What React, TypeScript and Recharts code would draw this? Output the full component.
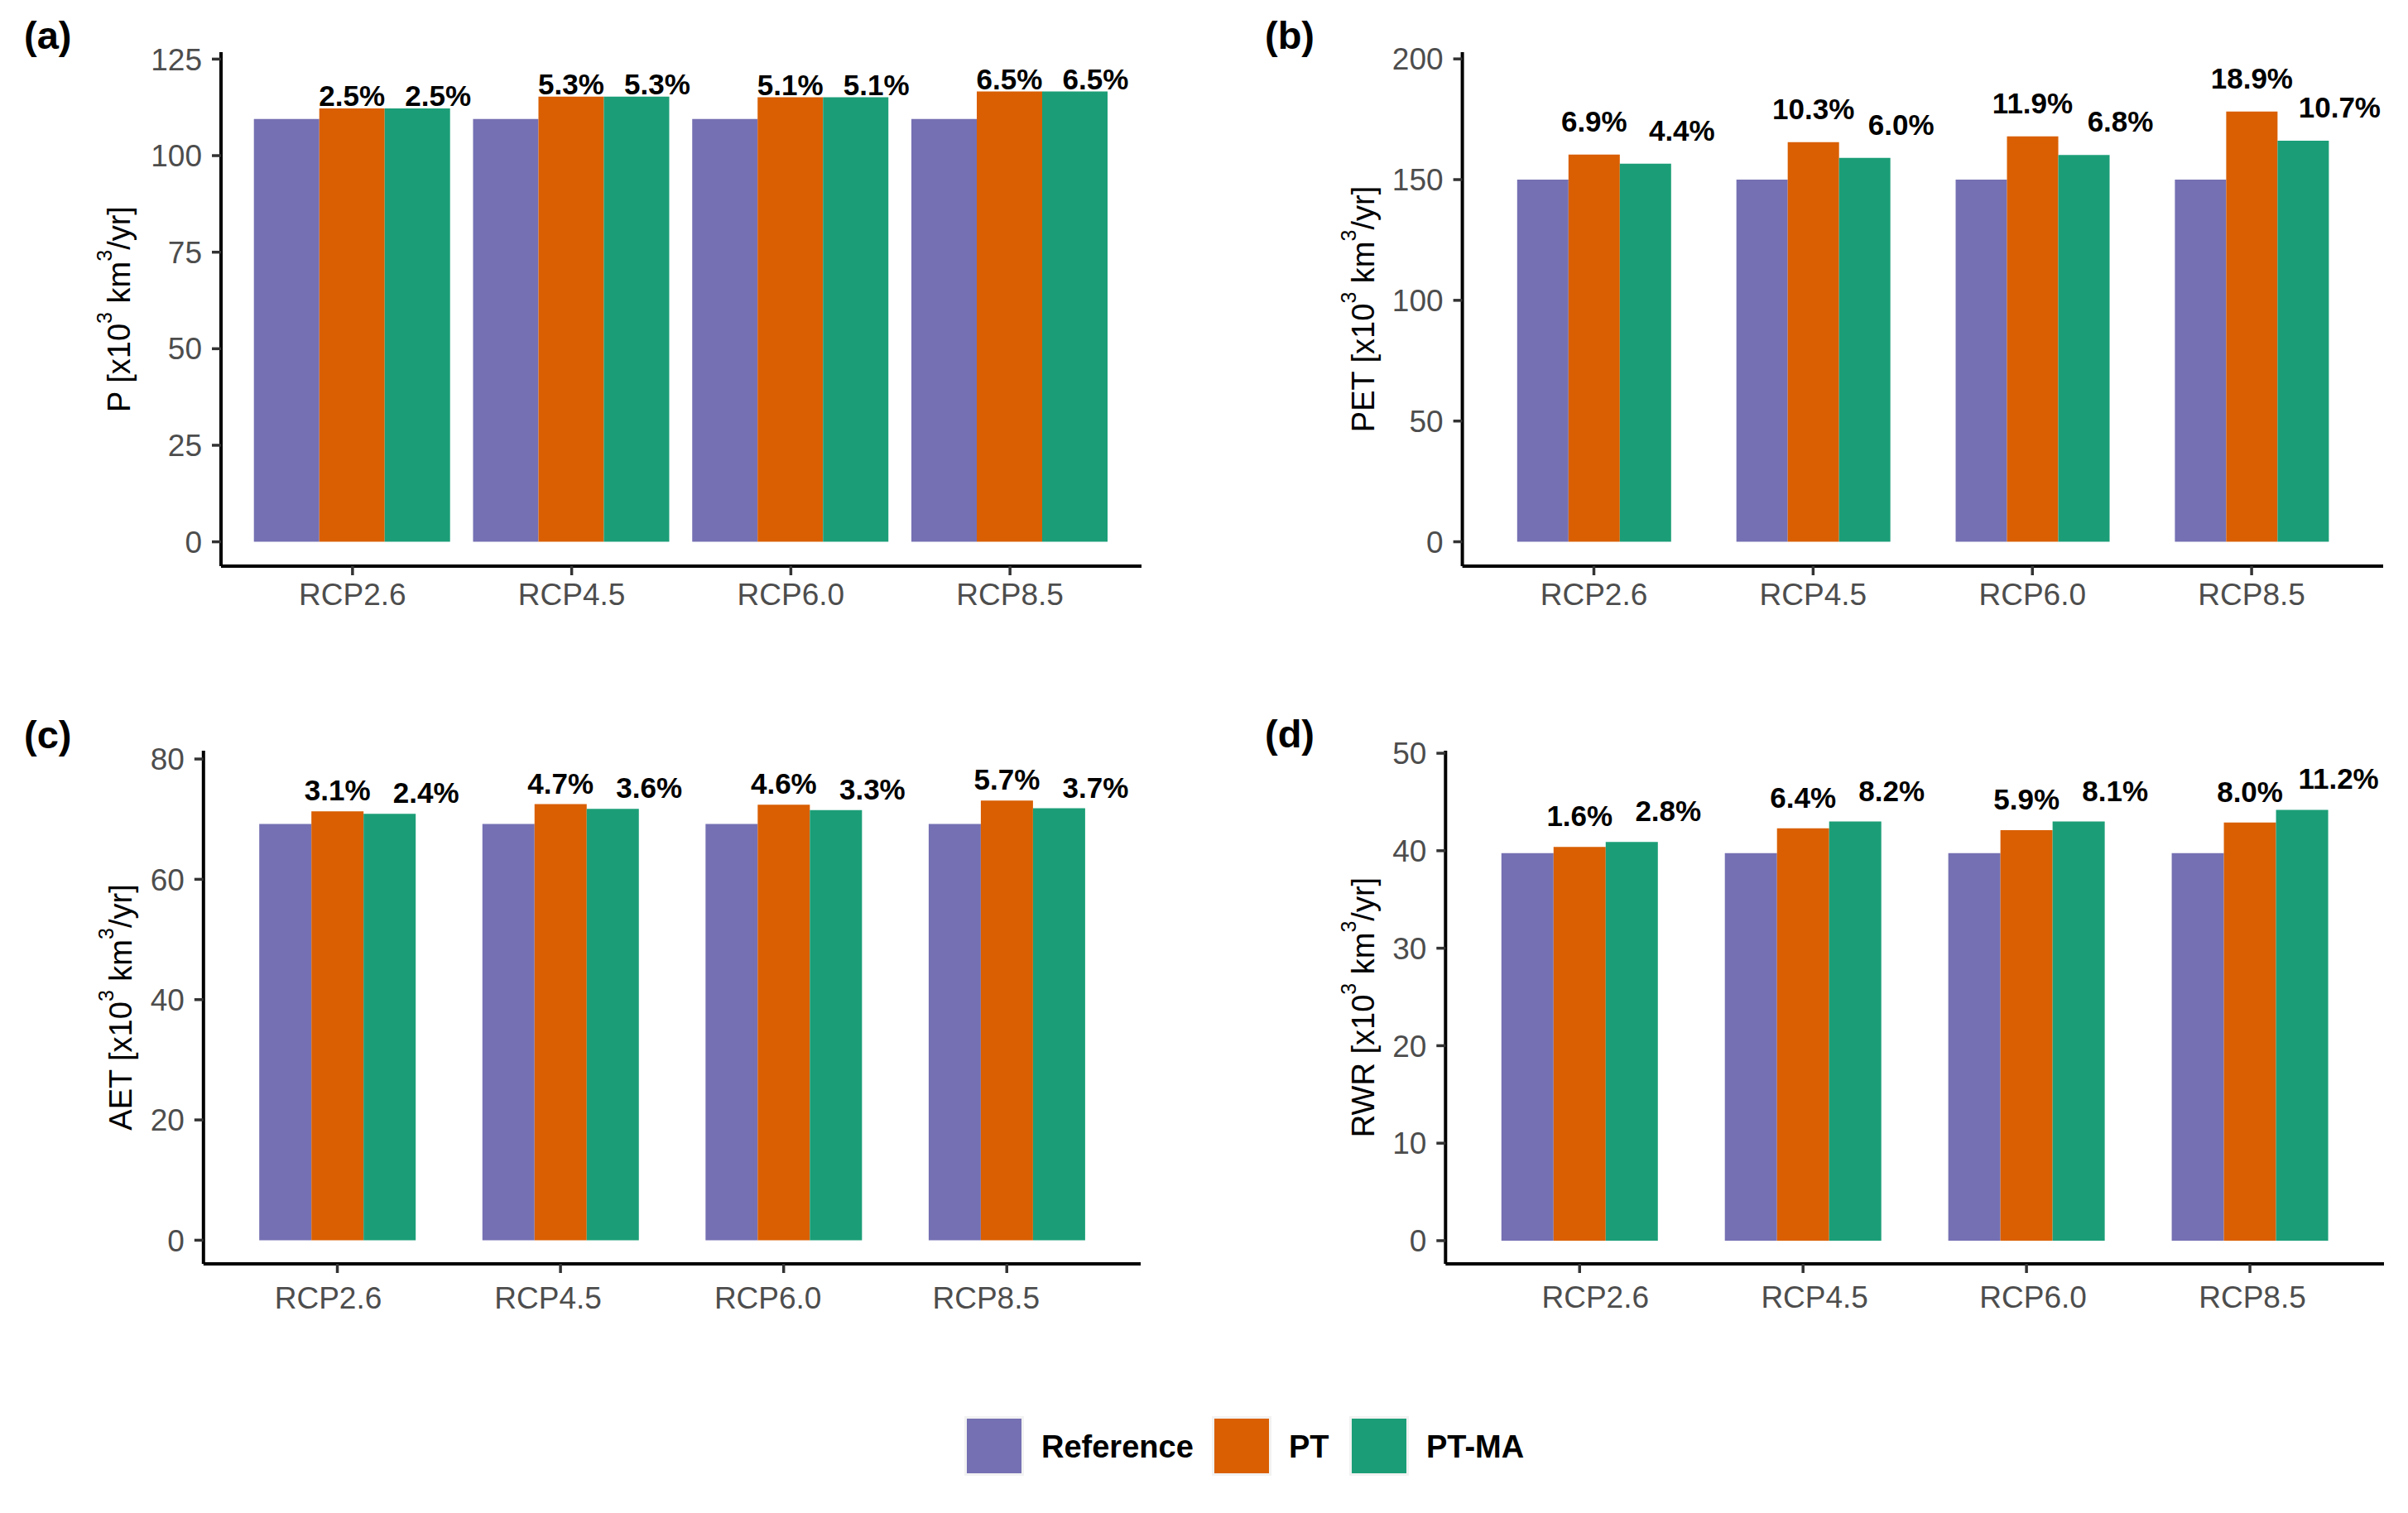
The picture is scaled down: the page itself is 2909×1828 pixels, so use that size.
import React from "react";
import { BarChart, Bar, XAxis, YAxis, LabelList } from "recharts";

// ---------- data ----------
const categories = ["RCP2.6", "RCP4.5", "RCP6.0", "RCP8.5"];
const seriesNames = ["Reference", "PT", "PT-MA"];
const seriesColors = ["#7570B3", "#D95F02", "#1B9E77"];

// (a) P
const pReference = [109.5, 109.5, 109.5, 109.5];
const pPT = [112.2, 115.3, 115.1, 116.6];
const pPTMA = [112.2, 115.3, 115.1, 116.6];
const pPTChange = [2.5, 5.3, 5.1, 6.5];
const pPTMAChange = [2.5, 5.3, 5.1, 6.5];
const pTicks = [0, 25, 50, 75, 100, 125];

// (b) PET
const petReference = [150.0, 150.0, 150.0, 150.0];
const petPT = [160.4, 165.5, 167.9, 178.2];
const petPTMA = [156.6, 159.0, 160.2, 166.1];
const petPTChange = [6.9, 10.3, 11.9, 18.9];
const petPTMAChange = [4.4, 6.0, 6.8, 10.7];
const petTicks = [0, 50, 100, 150, 200];

// (c) AET
const aetReference = [69.2, 69.2, 69.2, 69.2];
const aetPT = [71.3, 72.5, 72.4, 73.1];
const aetPTMA = [70.9, 71.7, 71.5, 71.8];
const aetPTChange = [3.1, 4.7, 4.6, 5.7];
const aetPTMAChange = [2.4, 3.6, 3.3, 3.7];
const aetTicks = [0, 20, 40, 60, 80];

// (d) RWR
const rwrReference = [39.75, 39.75, 39.75, 39.75];
const rwrPT = [40.4, 42.3, 42.1, 42.9];
const rwrPTMA = [40.9, 43.0, 43.0, 44.2];
const rwrPTChange = [1.6, 6.4, 5.9, 8.0];
const rwrPTMAChange = [2.8, 8.2, 8.1, 11.2];
const rwrTicks = [0, 10, 20, 30, 40, 50];

const FONT = "'Liberation Sans', Arial, Helvetica, sans-serif";

function buildData(refv: number[], pt: number[], ptma: number[], ptPct: number[], ptmaPct: number[]) {
  return categories.map((cat, i) => ({
    cat,
    baseline: refv[i],
    pt: pt[i],
    ptma: ptma[i],
    ptPct: ptPct[i],
    ptmaPct: ptmaPct[i],
  }));
}

type PanelCfg = {
  letter: string;
  varName: string;
  data: any[];
  ticks: number[];
  domain: [number, number];
  left: number;
  top: number;
  width: number;
  height: number;
  mTop: number;
  mRight: number;
  yW: number;
  xH: number;
  gap: string;
  labelOffset: number;
  maDx: number;
  xTickMargin: number;
  xTickShift: number[];
  titleX: number;
  titleY: number;
};

const plotWidthA = 1379 - 267;
const plotWidthB = 2879 - 1766.6;
const plotWidthC = 1378 - 245.8;
const plotWidthD = 2880 - 1746.3;

const panels: PanelCfg[] = [
  {
    letter: "(a)", varName: "P",
    data: buildData(pReference, pPT, pPTMA, pPTChange, pPTMAChange),
    ticks: pTicks, domain: [-6.3, 126.8],
    left: 0, top: 0, width: 1454, height: 800, mTop: 63, mRight: 75, yW: 267, xH: 116,
    gap: "5%", labelOffset: 3, maDx: 25, xTickMargin: 10, xTickShift: [0, 0, 0, 0],
    titleX: 157, titleY: 373.5,
  },
  {
    letter: "(b)", varName: "PET",
    data: buildData(petReference, petPT, petPTMA, petPTChange, petPTMAChange),
    ticks: petTicks, domain: [-10.1, 202.8],
    left: 1454, top: 0, width: 1455, height: 800, mTop: 63, mRight: 30, yW: 312.6, xH: 116,
    gap: "15%", labelOffset: 28, maDx: 44, xTickMargin: 10, xTickShift: [0, 0, 0, 0],
    titleX: 206, titleY: 373.5,
  },
  {
    letter: "(c)", varName: "AET",
    data: buildData(aetReference, aetPT, aetPTMA, aetPTChange, aetPTMAChange),
    ticks: aetTicks, domain: [-3.93, 81.38],
    left: 0, top: 820, width: 1454, height: 800, mTop: 87, mRight: 76, yW: 245.8, xH: 93,
    gap: "15%", labelOffset: 13, maDx: 44, xTickMargin: 17, xTickShift: [-11, -15, -19, -25],
    titleX: 159, titleY: 397,
  },
  {
    letter: "(d)", varName: "RWR",
    data: buildData(rwrReference, rwrPT, rwrPTMA, rwrPTChange, rwrPTMAChange),
    ticks: rwrTicks, domain: [-2.38, 50.26],
    left: 1454, top: 820, width: 1455, height: 800, mTop: 87, mRight: 29, yW: 292.3, xH: 93,
    gap: "15%", labelOffset: 25, maDx: 44, xTickMargin: 16, xTickShift: [19, 14, 8, 3],
    titleX: 206, titleY: 397,
  },
];
const plotWidths = [plotWidthA, plotWidthB, plotWidthC, plotWidthD];

function makePctLabel(offset: number, dx: number) {
  return (props: any) => {
    const x = Number(props.x);
    const y = Number(props.y);
    const w = Number(props.width);
    const v = Number(props.value);
    if (!isFinite(x) || !isFinite(y)) return null;
    return (
      <text
        x={x + w / 2 + dx}
        y={y - offset}
        textAnchor="middle"
        fontFamily={FONT}
        fontWeight="bold"
        fontSize={35}
        fill="#000000"
      >
        {v.toFixed(1) + "%"}
      </text>
    );
  };
}

function makeXTick(shifts: number[]) {
  return (props: any) => {
    const { x, y, payload } = props;
    const idx = payload && typeof payload.index === "number" ? payload.index : props.index;
    const dx = shifts[idx] || 0;
    return (
      <text
        x={Number(x) + dx}
        y={Number(y)}
        dy="0.71em"
        textAnchor="middle"
        fill="#4D4D4D"
        fontSize={37}
        fontFamily={FONT}
      >
        {payload.value}
      </text>
    );
  };
}

function makeTitle(varName: string, x: number, y: number) {
  return () => (
    <text
      x={x}
      y={y}
      transform={`rotate(-90 ${x} ${y})`}
      textAnchor="middle"
      fontFamily={FONT}
      fontSize={38}
      fill="#000000"
    >
      <tspan>{varName + " [x10"}</tspan>
      <tspan dy={-22} fontSize={25}>3</tspan>
      <tspan dy={22} fontSize={38}>{" km"}</tspan>
      <tspan dy={-22} fontSize={25}>3</tspan>
      <tspan dy={22} fontSize={38}>{"/yr]"}</tspan>
    </text>
  );
}

function Panel({ cfg, plotWidth }: { cfg: PanelCfg; plotWidth: number }) {
  const pad = plotWidth / 42;
  return (
    <div style={{ position: "absolute", left: cfg.left, top: cfg.top, width: cfg.width, height: cfg.height }}>
      <BarChart
        width={cfg.width}
        height={cfg.height}
        data={cfg.data}
        margin={{ top: cfg.mTop, right: cfg.mRight, bottom: 0, left: 0 }}
        barGap={0}
        barCategoryGap={cfg.gap}
      >
        <XAxis
          dataKey="cat"
          type="category"
          height={cfg.xH}
          padding={{ left: pad, right: pad }}
          interval={0}
          axisLine={{ stroke: "#000000", strokeWidth: 4 }}
          tickLine={{ stroke: "#333333", strokeWidth: 3.5 }}
          tickSize={11}
          tickMargin={cfg.xTickMargin}
          tick={makeXTick(cfg.xTickShift)}
        />
        <YAxis
          type="number"
          width={cfg.yW}
          domain={cfg.domain}
          allowDataOverflow
          ticks={cfg.ticks}
          interval={0}
          axisLine={{ stroke: "#000000", strokeWidth: 4 }}
          tickLine={{ stroke: "#333333", strokeWidth: 3.5 }}
          tickSize={11}
          tickMargin={12}
          tick={{ fill: "#4D4D4D", fontSize: 37, fontFamily: FONT }}
          label={{ content: makeTitle(cfg.varName, cfg.titleX, cfg.titleY) }}
        />
        <Bar dataKey="baseline" name={seriesNames[0]} fill={seriesColors[0]} isAnimationActive={false} />
        <Bar dataKey="pt" name={seriesNames[1]} fill={seriesColors[1]} isAnimationActive={false}>
          <LabelList dataKey="ptPct" content={makePctLabel(cfg.labelOffset, 0)} />
        </Bar>
        <Bar dataKey="ptma" name={seriesNames[2]} fill={seriesColors[2]} isAnimationActive={false}>
          <LabelList dataKey="ptmaPct" content={makePctLabel(cfg.labelOffset, cfg.maDx)} />
        </Bar>
      </BarChart>
    </div>
  );
}

const letterPos = [
  { x: 29, y: 59 },
  { x: 1528, y: 59 },
  { x: 29, y: 904 },
  { x: 1528, y: 903 },
];

const legendKeyX = [1168, 1467, 1633];
const legendTextX = [1258, 1557, 1723];

export default function App() {
  return (
    <div style={{ position: "absolute", left: 0, top: 0, width: 2909, height: 1828, background: "#FFFFFF" }}>
      {panels.map((p, i) => (
        <Panel key={p.letter} cfg={p} plotWidth={plotWidths[i]} />
      ))}
      <svg
        width={2909}
        height={1828}
        style={{ position: "absolute", left: 0, top: 0, pointerEvents: "none" }}
      >
        {panels.map((p, i) => (
          <text
            key={p.letter}
            x={letterPos[i].x}
            y={letterPos[i].y}
            fontFamily={FONT}
            fontWeight="bold"
            fontSize={47}
            fill="#000000"
          >
            {p.letter}
          </text>
        ))}
        {seriesNames.map((name, i) => (
          <g key={name}>
            <rect x={legendKeyX[i] - 3} y={1711} width={72} height={72} fill="#F2F2F2" />
            <rect x={legendKeyX[i]} y={1714} width={66} height={66} fill={seriesColors[i]} />
            <text
              x={legendTextX[i]}
              y={1761}
              fontFamily={FONT}
              fontWeight="bold"
              fontSize={38}
              fill="#000000"
            >
              {name}
            </text>
          </g>
        ))}
      </svg>
    </div>
  );
}
